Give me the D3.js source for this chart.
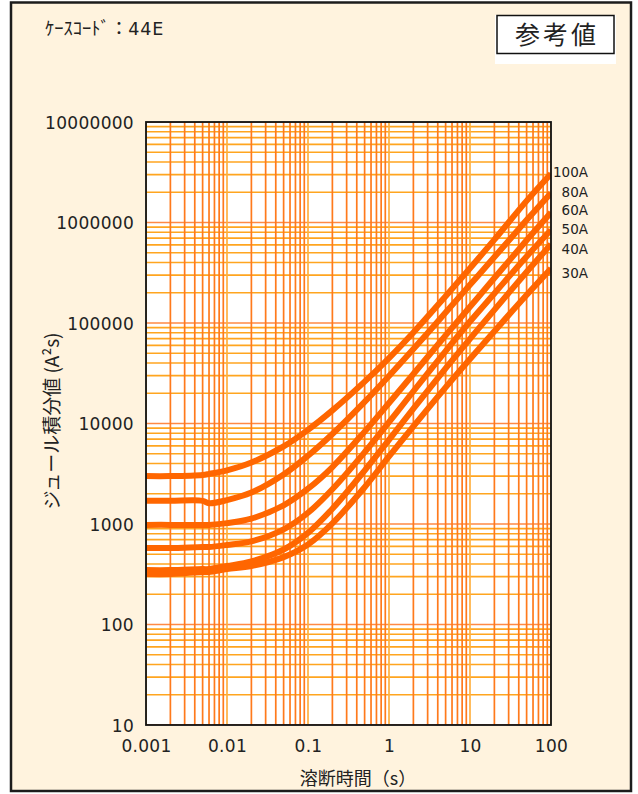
<!DOCTYPE html>
<html><head><meta charset="utf-8">
<script src="https://cdn.jsdelivr.net/npm/d3@7"></script>
<style>body{margin:0;background:#fff}svg{display:block}</style>
</head><body><svg id="c" width="638" height="794"></svg>
<script>
// ---- data ----
const times = [0.001,0.002,0.005,0.006,0.01,0.02,0.05,0.1,0.2,0.5,1,2,5,10,20,50,100];
const a100 = [3000,3000,3080,3150,3420,4090,5920,8650,13500,26100,44800,80500,184500,351000,676000,1640000,3050000];
const a80  = [1700,1700,1700,1610,1730,2056,3112,4775,7852,16400,29700,55000,127000,240000,453000,1057000,1968000];
const a60  = [980,980,977,980,1020,1132,1535,2244,3690,8300,16000,31100,75300,145000,280000,665000,1256000];
const a50  = [577,577,590,590,618,671,885,1294,2218,5176,10330,20940,52600,103500,196800,459000,843000];
const a40  = [348,348,356,356,382,424,558,817,1419,3404,6887,14060,35300,69500,135200,321400,608000];
const a30  = [318,318,333,333,356,382,468,625,1014,2323,4699,9376,22900,43850,82800,189700,348000];
const seriesNames = ["100A","80A","60A","50A","40A","30A"];
const seriesValues = [a100,a80,a60,a50,a40,a30];
const labelValues = [3150000,2010000,1315000,850000,537000,316000];
const xTickValues = [0.001,0.01,0.1,1,10,100];
const xTickLabels = ["0.001","0.01","0.1","1","10","100"];
const yTickValues = [10,100,1000,10000,100000,1000000,10000000];
const yTickLabels = ["10","100","1000","10000","100000","1000000","10000000"];
const titleText = "ｹｰｽｺｰﾄﾞ：";
const titleCode = "44E";
const badgeText = "参考値";
const xTitle = "溶断時間（s）";
const yTitle = "ジュール積分値 (A²s)";

// ---- layout ----
const svg = d3.select("#c");
const L = 146, R = 551, T = 122, B = 725;
const x = d3.scaleLog().domain([0.001,100]).range([L,R]);
const y = d3.scaleLog().domain([10,1e7]).range([B,T]);
const FONT = "'Noto Sans CJK JP','Noto Sans',sans-serif";
const NUM = "'DejaVu Sans',sans-serif";

svg.append("rect").attr("x",11).attr("y",2.5).attr("width",620).attr("height",788.5)
  .attr("fill","#FFF3DE").attr("stroke","#1c1c1c").attr("stroke-width",2.5);

const tt = svg.append("text").attr("x",45).attr("y",34.5).attr("font-family",FONT).attr("font-size",18.5)
  .attr("fill","#222");
tt.append("tspan").text(titleText);
tt.append("tspan").attr("font-family",NUM).attr("font-size",17.5).attr("letter-spacing",0.8).text(titleCode);

svg.append("rect").attr("x",495).attr("y",15).attr("width",121).attr("height",49).attr("fill","#fff");
svg.append("rect").attr("x",497).attr("y",15.5).attr("width",117).attr("height",38)
  .attr("fill","#fff").attr("stroke","#111").attr("stroke-width",1.5);
svg.append("text").attr("x",557).attr("y",43.5).attr("text-anchor","middle")
  .attr("font-family",FONT).attr("font-size",25).attr("letter-spacing",3).attr("fill","#222").text(badgeText);

// plot area
svg.append("rect").attr("x",L).attr("y",T).attr("width",R-L).attr("height",B-T).attr("fill","#fff");
svg.append("clipPath").attr("id","clip").append("rect").attr("x",L).attr("y",T).attr("width",R-L).attr("height",B-T);

const isDecade = v => Math.abs(Math.log10(v) - Math.round(Math.log10(v))) < 1e-9;
const g = svg.append("g").attr("clip-path","url(#clip)");
g.selectAll("line.h").data(y.ticks()).join("line").attr("class","h")
  .attr("x1",L).attr("x2",R).attr("y1",d=>y(d)).attr("y2",d=>y(d))
  .attr("stroke",d=>isDecade(d)?"#FF8A45":"#FFA51F").attr("stroke-width",1.7);
g.selectAll("line.v").data(x.ticks()).join("line").attr("class","v")
  .attr("y1",T).attr("y2",B).attr("x1",d=>x(d)).attr("x2",d=>x(d))
  .attr("stroke",d=>isDecade(d)?"#FFB040":"#FF7A1C").attr("stroke-width",1.7);

// curves
const line = d3.line().x(d=>x(d[0])).y(d=>y(d[1])).curve(d3.curveCatmullRom.alpha(0.5));
seriesValues.forEach(vals=>{
  g.append("path").attr("d",line(times.map((t,i)=>[t,vals[i]])))
   .attr("fill","none").attr("stroke","#FF6600").attr("stroke-width",6)
   .attr("stroke-linejoin","round").attr("stroke-linecap","butt");
});

svg.append("rect").attr("x",L).attr("y",T).attr("width",R-L).attr("height",B-T)
  .attr("fill","none").attr("stroke","#111").attr("stroke-width",1.8);

// axes
const ya = svg.append("g").attr("transform",`translate(${L},0)`)
  .call(d3.axisLeft(y).tickValues(yTickValues).tickSize(0).tickPadding(12)
    .tickFormat((d,i)=>yTickLabels[i]));
ya.select(".domain").remove();
ya.selectAll("text").attr("font-family",NUM).attr("font-size",17).attr("fill","#222")
  .attr("letter-spacing",0.3).attr("dy","0.36em");

const xa = svg.append("g").attr("transform",`translate(0,${B})`)
  .call(d3.axisBottom(x).tickValues(xTickValues).tickSize(0).tickPadding(15)
    .tickFormat((d,i)=>xTickLabels[i]));
xa.select(".domain").remove();
xa.selectAll("text").attr("font-family",NUM).attr("font-size",17).attr("fill","#222")
  .attr("letter-spacing",0.3);

// series labels
svg.selectAll("text.sl").data(seriesNames).join("text").attr("class","sl")
  .attr("x",x(100)+37).attr("y",(d,i)=>y(labelValues[i])).attr("dy","0.36em")
  .attr("text-anchor","end").attr("font-family",NUM).attr("font-size",13.5).attr("fill","#222")
  .text(d=>d);

// axis titles
svg.append("text").attr("x",358).attr("y",785).attr("text-anchor","middle")
  .attr("font-family",FONT).attr("font-size",18).attr("fill","#222").text(xTitle);
svg.append("text").attr("transform","translate(59,421) rotate(-90)").attr("text-anchor","middle")
  .attr("font-family",FONT).attr("font-size",19).attr("fill","#222").text(yTitle);
</script></body></html>
